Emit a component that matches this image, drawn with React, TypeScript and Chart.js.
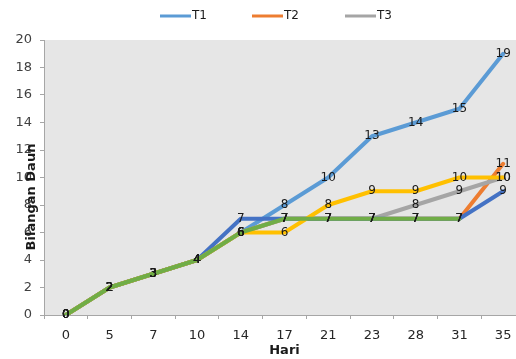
import React, { useEffect, useRef } from "react";
import { Chart, registerables } from "chart.js";

Chart.register(...registerables);

const days = ["0", "5", "7", "10", "14", "17", "21", "23", "28", "31", "35"];
const t1 = [0, 2, 3, 4, 6, 8, 10, 13, 14, 15, 19];
const t2 = [0, 2, 3, 4, 6, 7, 7, 7, 7, 7, 11];
const t3 = [0, 2, 3, 4, 6, 7, 7, 7, 8, 9, 10];
const t4 = [0, 2, 3, 4, 7, 7, 7, 7, 7, 7, 9];
const t5 = [0, 2, 3, 4, 6, 6, 8, 9, 9, 10, 10];
const t6 = [0, 2, 3, 4, 6, 7, 7, 7, 7, 7, null];
const seriesNames = ["T1", "T2", "T3", "T4", "T5", "T6"];
const seriesColors = ["#5b9bd5", "#ed7d31", "#a5a5a5", "#4472c4", "#ffc000", "#70ad47"];
const legendShown = ["T1", "T2", "T3"];
const yTitle = "Bilangan Daun";
const xTitle = "Hari";

const FONT = "'DejaVu Sans', Verdana, sans-serif";

const extras = {
  id: "extras",
  beforeDraw(chart: any) {
    const { ctx, chartArea } = chart;
    ctx.save();
    ctx.fillStyle = "#e6e6e6";
    ctx.fillRect(chartArea.left, chartArea.top, chartArea.right - chartArea.left, chartArea.bottom - chartArea.top);
    ctx.restore();
  },
  afterDatasetsDraw(chart: any) {
    const { ctx } = chart;
    ctx.save();
    ctx.font = `12px ${FONT}`;
    ctx.fillStyle = "#1a1a1a";
    ctx.textAlign = "center";
    ctx.textBaseline = "middle";
    chart.data.datasets.forEach((ds: any, i: number) => {
      const meta = chart.getDatasetMeta(i);
      meta.data.forEach((pt: any, j: number) => {
        const v = ds.data[j];
        if (v === null || v === undefined) return;
        ctx.fillText(String(v), pt.x, pt.y);
      });
    });
    ctx.restore();
  },
  afterDraw(chart: any) {
    const { ctx, chartArea } = chart;
    ctx.save();
    ctx.font = `bold 13px ${FONT}`;
    ctx.fillStyle = "#1a1a1a";
    ctx.textAlign = "center";
    ctx.textBaseline = "middle";
    ctx.translate(32, 197);
    ctx.rotate(-Math.PI / 2);
    ctx.fillText(yTitle, 0, 0);
    ctx.restore();
    ctx.save();
    ctx.font = `bold 13px ${FONT}`;
    ctx.fillStyle = "#1a1a1a";
    ctx.textAlign = "center";
    ctx.textBaseline = "middle";
    ctx.fillText(xTitle, (chartArea.left + chartArea.right) / 2, 351);
    ctx.font = `12px ${FONT}`;
    ctx.textAlign = "left";
    const starts = [160, 252, 345];
    legendShown.forEach((name, k) => {
      const idx = seriesNames.indexOf(name);
      const x = starts[k];
      ctx.strokeStyle = seriesColors[idx];
      ctx.lineWidth = 3;
      ctx.beginPath();
      ctx.moveTo(x, 16);
      ctx.lineTo(x + 31, 16);
      ctx.stroke();
      ctx.fillStyle = "#1a1a1a";
      ctx.fillText(name, x + 32, 16);
    });
    ctx.restore();
  },
};

export default function App() {
  const ref = useRef<HTMLCanvasElement>(null);
  useEffect(() => {
    document.body.style.margin = "0";
    document.body.style.overflow = "hidden";
    const all = [t1, t2, t3, t4, t5, t6];
    const chart = new Chart(ref.current as HTMLCanvasElement, {
      type: "line",
      data: {
        labels: days,
        datasets: all.map((d, i) => ({
          label: seriesNames[i],
          data: d,
          borderColor: seriesColors[i],
          backgroundColor: seriesColors[i],
          borderWidth: 4,
          pointRadius: 0,
          tension: 0,
          borderCapStyle: "round",
          borderJoinStyle: "round",
          order: all.length - i,
          spanGaps: false,
        })),
      },
      options: {
        animation: false,
        responsive: false,
        maintainAspectRatio: false,
        layout: { padding: { top: 40, left: 0, right: 0, bottom: 0 } },
        plugins: { legend: { display: false }, tooltip: { enabled: false } },
        scales: {
          x: {
            offset: true,
            grid: { display: true, offset: true, drawOnChartArea: false, drawTicks: true, tickLength: 4, color: "#a6a6a6" },
            border: { display: true, color: "#a6a6a6" },
            ticks: { color: "#262626", font: { family: FONT, size: 13 }, padding: 9, maxRotation: 0, autoSkip: false },
            afterFit: (s: any) => { s.height = 44; },
          },
          y: {
            min: 0,
            max: 20,
            grid: { display: true, drawOnChartArea: false, drawTicks: true, tickLength: 4, color: "#a6a6a6" },
            border: { display: true, color: "#a6a6a6" },
            ticks: { stepSize: 2, color: "#404040", font: { family: FONT, size: 13 }, padding: 8 },
            afterFit: (s: any) => { s.width = 44; },
          },
        },
      },
      plugins: [extras],
    } as any);
    return () => chart.destroy();
  }, []);
  return (
    <div style={{ position: "fixed", left: 0, top: 0, width: 525, height: 359 }}>
      <canvas ref={ref} width={525} height={359} style={{ width: 525, height: 359, display: "block" }} />
    </div>
  );
}
